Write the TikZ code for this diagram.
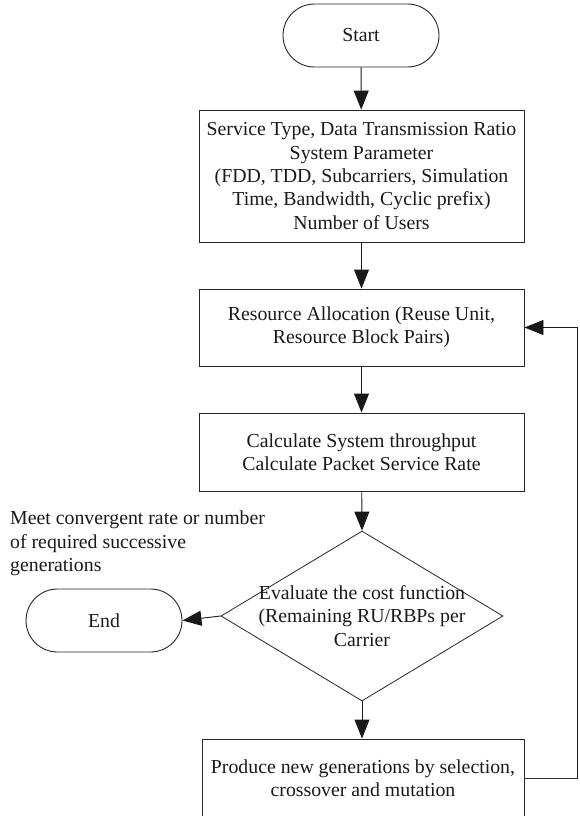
\documentclass[tikz,border=0pt]{standalone}
\usepackage{fontspec}
\setmainfont{Liberation Serif}
\usetikzlibrary{arrows.meta,shapes.geometric}
\begin{document}
\begin{tikzpicture}[x=1pt,y=-1pt,
  every node/.style={font=\fontsize{19.8pt}{23.3pt}\selectfont, text=black!90},
  box/.style={draw=black!85, line width=0.9pt, rectangle, minimum width=325pt, align=center, inner sep=0pt},
  term/.style={draw=black!85, line width=0.9pt, rectangle, rounded corners=31.5pt, minimum width=156pt, minimum height=63pt, inner sep=0pt},
  arr/.style={draw=black!90, line width=0.9pt, -{Triangle[length=19pt,width=15pt]}},
  fb/.style={draw=black!80, line width=0.9pt}]
\useasboundingbox (0,0) rectangle (579,816);
\node[term] (start) at (361,35.5) {Start};
\node[box, minimum height=132pt] (box1) at (361.5,176) {Service Type, Data Transmission Ratio\\System Parameter\\(FDD, TDD, Subcarriers, Simulation\\Time, Bandwidth, Cyclic prefix)\\Number of Users};
\node[box, minimum height=77pt] (box2) at (361.5,327.5) {Resource Allocation (Reuse Unit,\\Resource Block Pairs)};
\node[box, minimum height=78pt] (box3) at (361.5,452) {Calculate System throughput\\Calculate Packet Service Rate};
\node[draw=black!85, line width=0.8pt, diamond, minimum width=282pt, minimum height=170pt, inner sep=0pt] (eval) at (362,616) {};
\node[align=center, inner sep=0pt] (evaltext) at (362,616) {Evaluate the cost function\\(Remaining RU/RBPs per\\Carrier};
\node[box, minimum width=322pt, minimum height=79pt] (box4) at (363,778.5) {Produce new generations by selection,\\crossover and mutation};
\node[term] (end) at (104,620.5) {End};
\node[anchor=north west, align=left, inner sep=0pt] (note) at (10,511) {Meet convergent rate or number\\of required successive\\generations};
\coordinate (fbc) at (577,778.5);
\draw[arr] (start) -- (box1);
\draw[arr] (box1) -- (box2);
\draw[arr] (box2) -- (box3);
\draw[arr] (box3) -- (eval.north);
\draw[arr] (eval.south) -- (box4.north -| eval.south);
\draw[arr] (eval.west) -- (end.east);
\draw[fb] (box4.east) -- (fbc);
\draw[arr] (fbc) |- (box2.east);
\end{tikzpicture}
\end{document}
